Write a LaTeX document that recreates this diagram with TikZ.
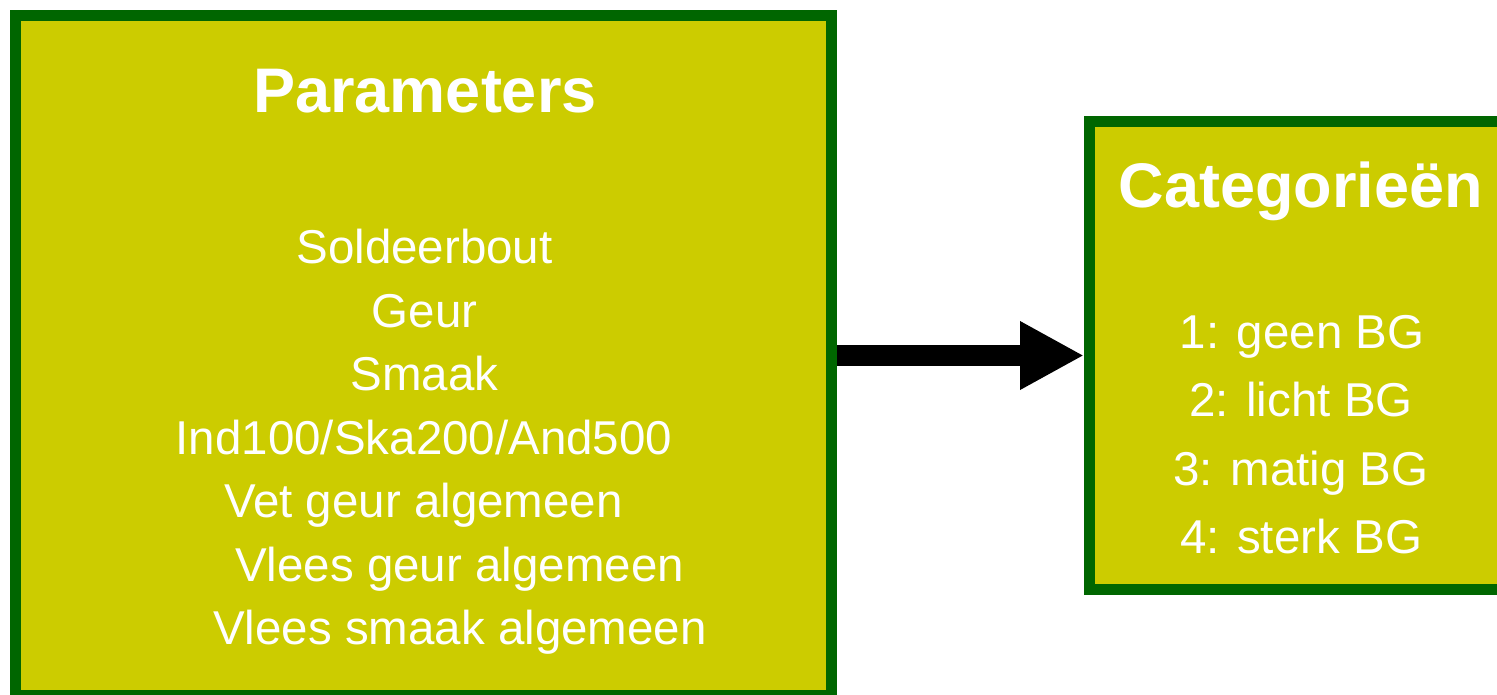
\documentclass[tikz,border=0pt]{standalone}
\usepackage{fontspec}
\setmainfont{Liberation Sans}
\usetikzlibrary{arrows.meta}
\definecolor{boxfill}{RGB}{204,204,0}
\definecolor{boxline}{RGB}{0,102,0}
\tikzset{
  panel/.style={draw=boxline, fill=boxfill, line width=11pt, inner sep=0pt, rectangle},
  heading/.style={anchor=base, text=white, inner sep=0pt, font=\fontsize{63}{63}\selectfont\bfseries},
  entry/.style={anchor=base, text=white, inner sep=0pt, font=\fontsize{47.5}{47.5}\selectfont},
  bigarrow/.style={draw=black, line width=21pt, -{Triangle[length=64pt 0 0, width=64pt 0 0]}}
}
\begin{document}
\begin{tikzpicture}[x=1pt, y=-1pt]
  \useasboundingbox (0,0) rectangle (1497,694);
  % parameter panel
  \node[panel, minimum width=816pt, minimum height=680pt] (params) at (423.5,355.5) {};
  \node[heading] (ptitle) at (425,112) {Parameters};
  \node[entry] (p1) at (424.5,263) {Soldeerbout};
  \node[entry] (p2) at (424.5,327) {Geur};
  \node[entry] (p3) at (424.5,390) {Smaak};
  \node[entry] (p4) at (424,454) {Ind100/Ska200/And500};
  \node[entry] (p5) at (423.5,517) {Vet geur algemeen};
  \node[entry] (p6) at (459.5,581) {Vlees geur algemeen};
  \node[entry] (p7) at (460,644) {Vlees smaak algemeen};
  % category panel (runs past the right edge)
  \node[panel, minimum width=440pt, minimum height=468pt] (cats) at (1309.5,355.5) {};
  \node[heading] (ctitle) at (1301,207) {Categorieën};
  \node[entry] (c1) at (1302,348) {1: geen BG};
  \node[entry] (c2) at (1301,416) {2: licht BG};
  \node[entry] (c3) at (1301,485) {3: matig BG};
  \node[entry] (c4) at (1301,553) {4: sterk BG};
  % connector
  \draw[bigarrow] (params.east) -- (cats.west);
\end{tikzpicture}
\end{document}
